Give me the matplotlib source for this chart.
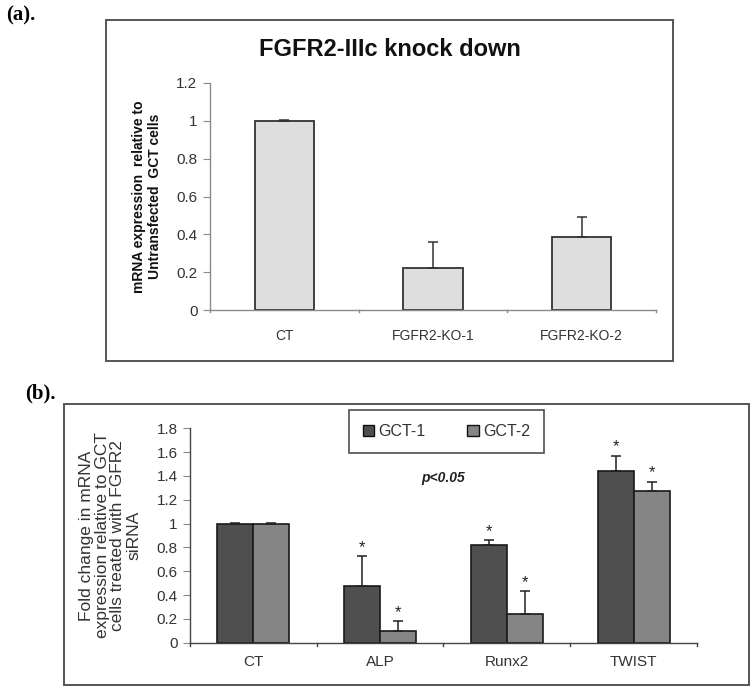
"""Two-panel figure: FGFR2-IIIc knock down (a) and marker fold change (b)."""
import matplotlib
matplotlib.use("Agg")
import matplotlib.pyplot as plt
from matplotlib.patches import Rectangle, Patch
import numpy as np

# --- Data -----------------------------------------------------------------
KD_LABELS = ["CT", "FGFR2-KO-1", "FGFR2-KO-2"]
KD_VALUES = [1.0, 0.22, 0.385]
KD_ERR = [0.005, 0.14, 0.105]

GENES = ["CT", "ALP", "Runx2", "TWIST"]
GCT1 = [1.0, 0.48, 0.82, 1.44]
GCT1_ERR = [0.004, 0.245, 0.04, 0.13]
GCT2 = [1.0, 0.10, 0.24, 1.27]
GCT2_ERR = [0.004, 0.08, 0.19, 0.08]
STAR1 = [False, True, True, True]
STAR2 = [False, True, True, True]

W, H = 755, 691
GRAY_AX = "#8a8a8a"
TXT = "#333333"

plt.rcParams.update({
    "font.family": ["Liberation Sans", "DejaVu Sans"],
})

fig = plt.figure(figsize=(W / 100, H / 100), dpi=100)


def fx(px):
    return px / W


def fy(py):
    return 1 - py / H


def frame(x0, y0, x1, y1):
    fig.add_artist(Rectangle((fx(x0), fy(y1)), fx(x1) - fx(x0), fy(y0) - fy(y1),
                             transform=fig.transFigure, fill=False,
                             edgecolor="#555555", linewidth=1.4))


def style_axis(ax, ymax, step):
    for s in ("top", "right"):
        ax.spines[s].set_visible(False)
    for s in ("left", "bottom"):
        ax.spines[s].set_color(GRAY_AX)
        ax.spines[s].set_linewidth(1.0)
    ax.set_ylim(0, ymax)
    ax.set_yticks(np.arange(0, ymax + 1e-9, step))
    ax.tick_params(axis="y", direction="out", length=5, color=GRAY_AX,
                   labelsize=11, labelcolor=TXT, pad=4)
    ax.tick_params(axis="x", length=0, labelsize=10, labelcolor=TXT, pad=9)


# --- Panel (a) ------------------------------------------------------------
frame(106, 20, 673, 361)
fig.text(fx(6), fy(15), "(a).", fontsize=15, fontweight="bold",
         family="Liberation Serif", va="center", ha="left")

ax1 = fig.add_axes([fx(210), fy(310), fx(656) - fx(210), fy(83) - fy(310)])
x1 = np.arange(len(KD_LABELS))
ax1.bar(x1, KD_VALUES, width=0.4, color="#dedede", edgecolor="#333333",
        linewidth=1.3, zorder=2)
ax1.errorbar(x1, KD_VALUES, yerr=[np.zeros(len(KD_ERR)), KD_ERR], fmt="none",
             ecolor="#333333", elinewidth=1.1, capsize=3.5, capthick=1.1,
             zorder=3)
ax1.set_xlim(-0.5, len(KD_LABELS) - 0.5)
style_axis(ax1, 1.2, 0.2)
ax1.set_yticklabels(["0", "0.2", "0.4", "0.6", "0.8", "1", "1.2"])
ax1.set_xticks(x1)
ax1.set_xticklabels(KD_LABELS)
ax1.tick_params(axis="x", pad=14)
# category separators on the x-axis
for b in np.arange(-0.5, len(KD_LABELS), 1.0):
    ax1.plot([b, b], [0, -0.012], color=GRAY_AX, lw=1.0, clip_on=False)
ax1.set_ylabel("mRNA expression  relative to\nUntransfected  GCT cells",
               fontsize=10, fontweight="bold", labelpad=10, color="#111111")
fig.text(fx(390), fy(50), "FGFR2-IIIc knock down", fontsize=17,
         fontweight="bold", ha="center", va="center", color="#111111")

# --- Panel (b) ------------------------------------------------------------
frame(64, 404, 749, 685)
fig.text(fx(25), fy(393), "(b).", fontsize=15, fontweight="bold",
         family="Liberation Serif", va="center", ha="left")

ax2 = fig.add_axes([fx(190), fy(642.7), fx(697) - fx(190), fy(428.3) - fy(642.7)])
x2 = np.arange(len(GENES))
bw = 0.285
c1, c2 = "#4f4f4f", "#858585"
ax2.bar(x2 - bw / 2, GCT1, width=bw, color=c1, edgecolor="#1a1a1a",
        linewidth=1.2, zorder=2, label="GCT-1")
ax2.bar(x2 + bw / 2, GCT2, width=bw, color=c2, edgecolor="#1a1a1a",
        linewidth=1.2, zorder=2, label="GCT-2")
ax2.errorbar(x2 - bw / 2, GCT1, yerr=[np.zeros(len(GCT1)), GCT1_ERR],
             fmt="none", ecolor="#222222", elinewidth=1.1, capsize=3.5,
             capthick=1.1, zorder=3)
ax2.errorbar(x2 + bw / 2, GCT2, yerr=[np.zeros(len(GCT2)), GCT2_ERR],
             fmt="none", ecolor="#222222", elinewidth=1.1, capsize=3.5,
             capthick=1.1, zorder=3)
for i in range(len(GENES)):
    if STAR1[i]:
        ax2.text(x2[i] - bw / 2, GCT1[i] + GCT1_ERR[i] + 0.075, "*",
                 ha="center", va="center", fontsize=12, color="#222222")
    if STAR2[i]:
        ax2.text(x2[i] + bw / 2, GCT2[i] + GCT2_ERR[i] + 0.075, "*",
                 ha="center", va="center", fontsize=12, color="#222222")
ax2.set_xlim(-0.5, len(GENES) - 0.5)
style_axis(ax2, 1.8, 0.2)
ax2.set_yticklabels(["0", "0.2", "0.4", "0.6", "0.8", "1", "1.2", "1.4",
                     "1.6", "1.8"])
ax2.set_xticks(x2)
ax2.set_xticklabels(GENES, fontsize=11)
ax2.tick_params(axis="x", pad=9)
for b in np.arange(-0.5, len(GENES), 1.0):
    ax2.plot([b, b], [0, -0.025], color="#444444", lw=1.0, clip_on=False)
ax2.spines["bottom"].set_color("#444444")
ax2.spines["left"].set_color("#444444")
ax2.set_ylabel("Fold change in mRNA\nexpression relative to GCT\n"
               "cells treated with FGFR2\nsiRNA", fontsize=12.5,
               color=TXT, labelpad=11, linespacing=1.05)
ax2.text(0.5, 0.77, "p<0.05", transform=ax2.transAxes, fontsize=10,
         fontweight="bold", fontstyle="italic", ha="center", va="center",
         color="#222222")

handles = [Patch(facecolor=c1, edgecolor="#111111", label="GCT-1"),
           Patch(facecolor=c2, edgecolor="#111111", label="GCT-2")]
leg = fig.legend(handles=handles, loc="center",
                 bbox_to_anchor=(fx(446.5), fy(431.5)), ncol=2,
                 frameon=True, fancybox=False, edgecolor="#222222",
                 fontsize=11.5, handlelength=0.7, handleheight=0.7,
                 handletextpad=0.3, columnspacing=2.6, borderpad=0.85,
                 borderaxespad=0)
leg.get_frame().set_linewidth(1.2)
for t in leg.get_texts():
    t.set_color(TXT)

fig.savefig("out.png", dpi=100)
